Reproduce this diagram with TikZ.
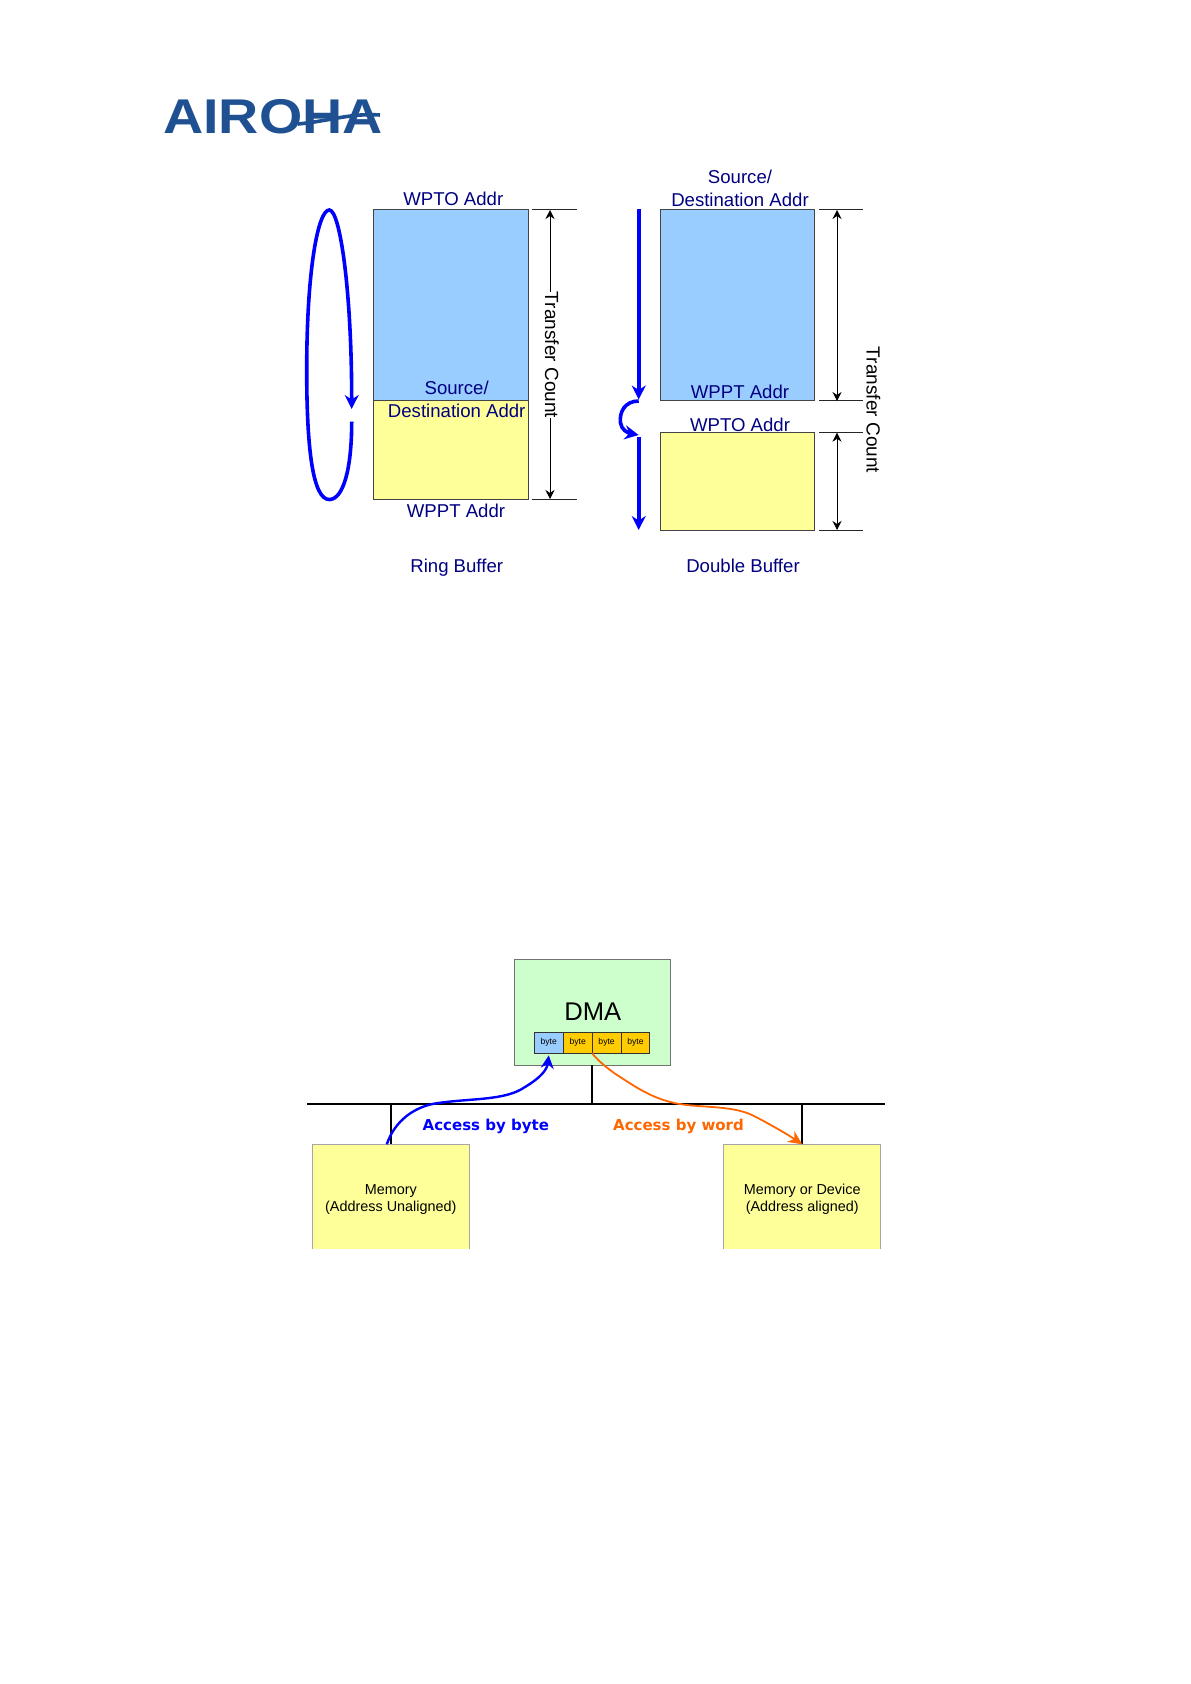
\documentclass[tikz,border=0pt]{standalone}
\usepackage{fontspec}
\setmainfont{Liberation Sans}
\newfontfamily\accessfont{DejaVu Sans}
\usetikzlibrary{arrows.meta,positioning}
\definecolor{buf-blue}{HTML}{99CCFF}
\definecolor{buf-yellow}{HTML}{FFFF99}
\definecolor{dma-green}{HTML}{CCFFCC}
\definecolor{cell-gold}{HTML}{FFCC00}
\definecolor{addr-navy}{HTML}{000080}
\definecolor{flow-blue}{HTML}{0000FF}
\definecolor{flow-orange}{HTML}{FF6600}
\definecolor{logo-blue}{HTML}{1F5192}
\definecolor{edge-gray}{HTML}{444444}

\begin{document}
\begin{tikzpicture}[x=0.5pt, y=-0.5pt, >=Stealth,
	   buf/.style={draw=edge-gray, line width=0.5pt, inner sep=0pt, outer sep=0pt, anchor=north west},
	   cell/.style={draw=black!80, line width=0.5pt, inner sep=0pt, outer sep=0pt, minimum width=14.46pt, minimum height=10.7pt, font=\fontsize{4.3}{5}\selectfont},
	   addr/.style={text=addr-navy, inner sep=0pt, align=center, font=\fontsize{9.3}{11.3}\selectfont},
	   count/.style={rotate=-90, inner sep=0pt, font=\fontsize{9.5}{12}\selectfont},
	   tick/.style={line width=0.5pt, black!85},
	   dim/.style={<->, line width=0.4pt, >={Stealth[length=4.5pt,width=4.5pt]}},
	   flow/.style={->, flow-blue, line width=1.8pt, >={Stealth[length=7pt,width=7pt]}},
	   mem/.style={fill=buf-yellow, inner sep=0pt, outer sep=0pt, minimum width=78.5pt, minimum height=52.2pt, align=center, font=\fontsize{7.2}{8.7}\selectfont, anchor=north west},
	   access/.style={inner sep=0pt, font=\accessfont\bfseries\fontsize{7.5}{9}\selectfont}]
	  \useasboundingbox (0,0) rectangle (1190,1684);

	  \node[font=\bfseries\fontsize{24.4}{26}\selectfont, text=logo-blue, inner sep=0pt, xscale=1.14] (logo) at (273,117) {AIROHA};
	  \draw[logo-blue, line width=1.8pt] (298,124) .. controls (330,121) and (350,113) .. (380,115);

	  \node[buf, fill=buf-blue, minimum width=77.25pt, minimum height=95.5pt] (ringhi) at (373.5,210) {};
	  \node[buf, fill=buf-yellow, minimum width=77.25pt, minimum height=49pt] (ringlo) at (373.5,401) {};
	  \node[addr] (ringwpto) at (453.3,199) {WPTO Addr};
	  \node[addr] (ringsrc) at (456.7,399.2) {Source/\\ Destination Addr};
	  \node[addr] (ringwppt) at (456,510.7) {WPPT Addr};
	  \node[addr] (ringname) at (456.7,568) {Ring Buffer};
	  \coordinate (ringa) at (531.7,210); \coordinate (ringb) at (576.7,210);
	  \coordinate (ringc) at (531.7,499); \coordinate (ringd) at (576.7,499);
	  \coordinate (ringe) at (550,210); \coordinate (ringf) at (550,499);
	  \draw[tick] (ringa)--(ringb); \draw[tick] (ringc)--(ringd);
	  \draw[dim] (ringe)--(ringf);
	  \node[count, fill=white] (ringcount) at (552,355) {Transfer Count};
	  \coordinate (loopa) at (351.7,421.7); \coordinate (loopb) at (351.7,409);
	  \draw[flow] (loopa) .. controls (351.7,470) and (343,499.5) .. (329.3,499.5)
	    .. controls (313,499.5) and (306.7,450) .. (306.7,370)
	    .. controls (306.7,270) and (318,210) .. (329.3,210)
	    .. controls (340,210) and (351.7,290) .. (loopb);

	  \node[buf, fill=buf-blue, minimum width=77pt, minimum height=95.5pt] (dblhi) at (660.7,210) {};
	  \node[buf, fill=buf-yellow, minimum width=77pt, minimum height=48.65pt] (dbllo) at (660.7,432.7) {};
	  \node[addr] (dblsrc) at (740,188.3) {Source/\\ Destination Addr};
	  \node[addr] (dblwppt) at (740,391.7) {WPPT Addr};
	  \node[addr] (dblwpto) at (740,425) {WPTO Addr};
	  \node[addr] (dblname) at (743,566) {Double Buffer};
	  \coordinate (dbla) at (819,210); \coordinate (dblb) at (863,210);
	  \coordinate (dblc) at (819,401); \coordinate (dbld) at (863,401);
	  \coordinate (dble) at (819,432.7); \coordinate (dblf) at (863,432.7);
	  \coordinate (dblg) at (819,530); \coordinate (dblh) at (863,530);
	  \draw[tick] (dbla)--(dblb); \draw[tick] (dblc)--(dbld);
	  \draw[tick] (dble)--(dblf); \draw[tick] (dblg)--(dblh);
	  \coordinate (dbli) at (837,210); \coordinate (dblj) at (837,401);
	  \coordinate (dblk) at (837,432.7); \coordinate (dbll) at (837,530);
	  \draw[dim] (dbli)--(dblj); \draw[dim] (dblk)--(dbll);
	  \node[count] (dblcount) at (873.5,410) {Transfer Count};
	  \coordinate (runa) at (638.7,209); \coordinate (runb) at (638.7,399.5);
	  \coordinate (runc) at (638.7,401); \coordinate (rund) at (638.7,435);
	  \coordinate (rune) at (638.7,437); \coordinate (runf) at (638.7,530);
	  \draw[flow] (runa)--(runb); \draw[flow] (rune)--(runf);
	  \draw[flow] (runc) .. controls (625,401) and (619,412) .. (620.5,423)
	    .. controls (621.5,430) and (628,433) .. (rund);

	  \node[draw=black!55, line width=0.5pt, fill=dma-green, inner sep=0pt, outer sep=0pt, minimum width=78.15pt, minimum height=52.85pt, anchor=north west] (dma) at (514,959.3) {};
	  \node[inner sep=0pt, font=\fontsize{12.8}{14}\selectfont] (dmaname) at (592.7,1011.7) {DMA};
	  \node[cell, fill=buf-blue, anchor=north west] (b1) at (534.3,1032) {byte};
	  \node[cell, fill=cell-gold, right=0pt of b1] (b2) {byte};
	  \node[cell, fill=cell-gold, right=0pt of b2] (b3) {byte};
	  \node[cell, fill=cell-gold, right=0pt of b3] (b4) {byte};

	  \node[mem] (memu) at (312.3,1144.3) {\\[-1pt]Memory\\ (Address Unaligned)};
	  \node[mem] (mema) at (723.7,1144.3) {\\[-1pt]Memory or Device\\ (Address aligned)};
	  \draw[black!35, line width=0.5pt] (memu.south west)--(memu.north west)--(memu.north east)--(memu.south east);
	  \draw[black!35, line width=0.5pt] (mema.south west)--(mema.north west)--(mema.north east)--(mema.south east);

	  \coordinate (busl) at (307.3,1104); \coordinate (busr) at (885,1104);
	  \coordinate (busu) at (memu.north |- busl); \coordinate (busa) at (mema.north |- busl);
	  \coordinate (busd) at (dma.south |- busl);
	  \draw[black, line width=0.75pt] (busl)--(busr);
	  \draw[black, line width=0.75pt] (dma.south)--(busd);
	  \draw[black, line width=0.75pt] (busu)--(memu.north);
	  \draw[black, line width=0.75pt] (busa)--(mema.north);

	  \draw[->, flow-blue, line width=1.2pt, >={Stealth[length=6.5pt,width=6.5pt]}] ([xshift=-2pt]memu.north) .. controls (395,1120) and (415,1107) .. (435,1103.5)
	    .. controls (470,1098) and (505,1101) .. (525,1087)
	    .. controls (540,1078) and (547,1070) .. ([yshift=-1pt]b1.south);
	  \draw[->, flow-orange, line width=0.9pt, >={Stealth[length=7pt,width=6.5pt]}] (b2.south east) .. controls (600,1063) and (612,1072) .. (621.7,1078)
	    .. controls (640,1090) and (655,1099) .. (676.7,1103.5)
	    .. controls (700,1108) and (730,1105) .. (752,1115)
	    .. controls (770,1124) and (790,1136) .. (mema.north);
	  \node[access, text=flow-blue] (bytelabel) at (485.8,1126.5) {Access by byte};
	  \node[access, text=flow-orange] (wordlabel) at (678.5,1126.5) {Access by word};
	\end{tikzpicture}
\end{document}
